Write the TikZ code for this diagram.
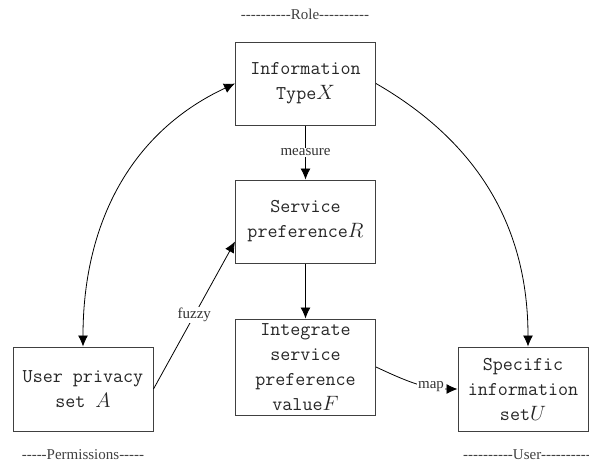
\documentclass[tikz,border=0pt]{standalone}
\usepackage{fontspec}
\setmainfont{Liberation Serif}
\usepackage{tikz}
\usetikzlibrary{positioning}
\usetikzlibrary{calc,arrows.meta}

\newcommand\dashrun[1]{\foreach \d in {1,...,#1}{-\kern0pt}}

\begin{document}
\begin{tikzpicture}
	[   x=1pt,y=-1pt,
	    bnode/.style={draw=black!75,line width=1pt,fill=white,rectangle,minimum width=140pt,minimum height=#1,align=center,inner sep=0pt,text=black!85,font=\ttfamily\fontsize{19.5}{25}\selectfont},
	    elabel/.style={fill=white,inner sep=1pt,text=black!80,font=\fontsize{15}{15}\selectfont},
	    tlabel/.style={inner sep=0pt,text=black!75,font=\fontsize{15}{15}\selectfont},
	]
	\tikzset{normal arrow/.style={draw,line width=0.8pt,-{Latex[length=11pt,width=10pt]}}}
	\tikzset{both arrow/.style={draw,line width=0.8pt,{Latex[length=11pt,width=10pt]}-{Latex[length=11pt,width=10pt]}}}
	\useasboundingbox (0,0) rectangle (589,466);
	
	\node[tlabel] (role) at (305,14) {\dashrun{10}Role\dashrun{10}};
	\node[tlabel] (perm) at (83,455) {\dashrun{5}Permissions\dashrun{5}};
	\node[tlabel] (usr) at (527,455) {\dashrun{10}User\dashrun{10}};
	
	\node[bnode=83pt] (x) at (305.5,83.5) {Information\\Type$X$};
	\node[bnode=83pt] (r) at (305.5,221.5) {Service\\preference$R$};
	\node[bnode=96pt] (f) at (305.5,367) {Integrate\\service\\preference\\value$F$};
	\node[bnode=84pt] (a) at (83,389) {User privacy\\set $A$};
	\node[bnode=84pt,minimum width=130pt] (u) at (523,389) {Specific\\information\\set$U$};
	
	\path[normal arrow] (x) -- node[elabel]{measure} (r);
	\path[normal arrow] (r) -- (f);
	\path[both arrow] (a.north) to[out=90,in=205] (x.west);
	\path[normal arrow] (x.east) to[out=-30,in=90] ([xshift=5pt]u.north);
	\path[normal arrow] (a.east) -- node[elabel]{fuzzy} ([yshift=-20pt]r.west);
	\path[normal arrow] (f.east) to[out=-25,in=180] node[elabel,pos=0.7]{map} (u.west);
\end{tikzpicture}
\end{document}
